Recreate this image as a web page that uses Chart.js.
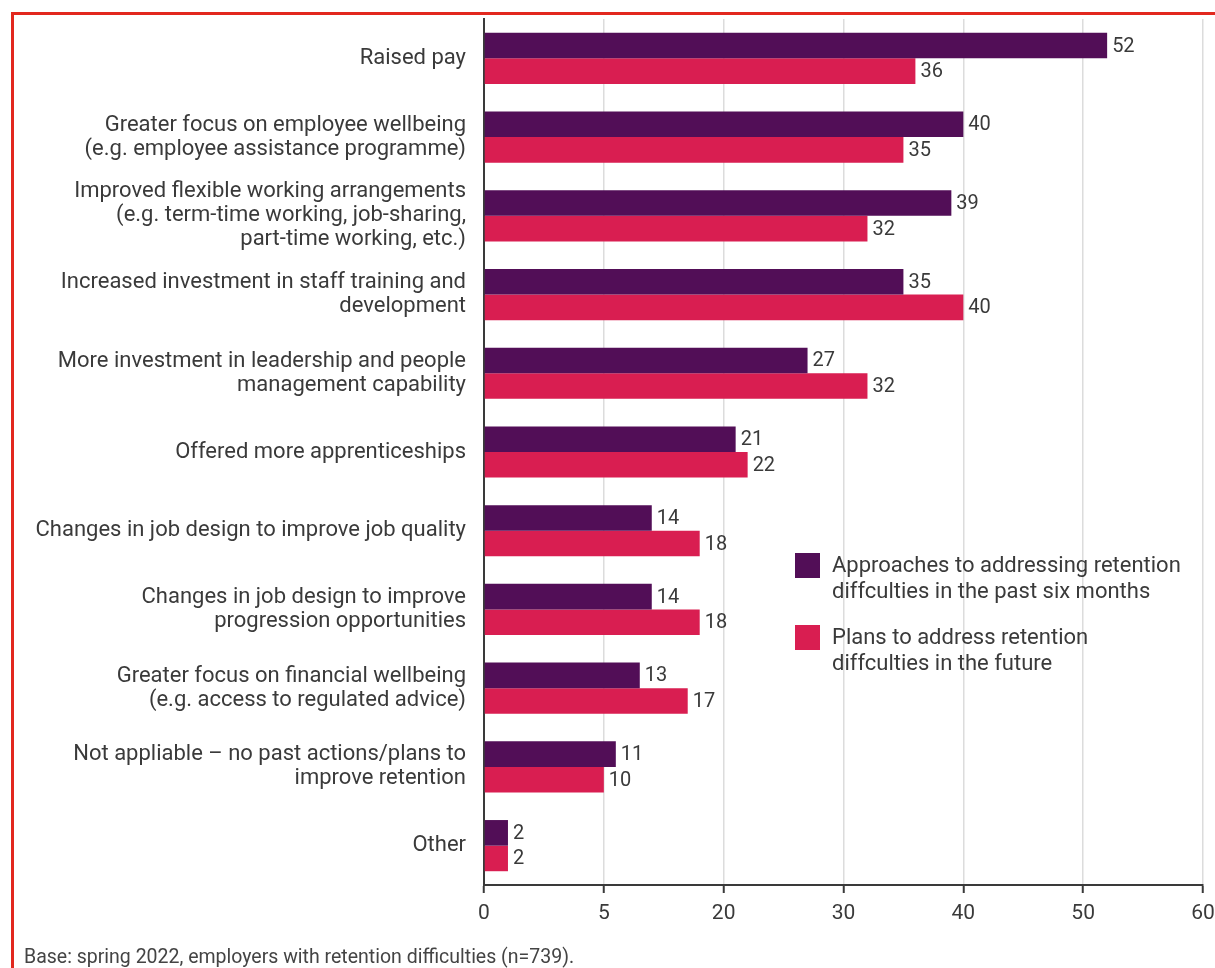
<!DOCTYPE html>
<html>
<head>
<meta charset="utf-8">
<script src="https://cdn.jsdelivr.net/npm/chart.js@4.4.1/dist/chart.umd.min.js"></script>
<style>
html,body{margin:0;padding:0;background:#fff;overflow:hidden;}
body{width:1215px;height:968px;position:relative;font-family:Roboto,"Liberation Sans",sans-serif;}
#frame{position:absolute;left:11px;top:12px;width:1300px;height:1100px;border-top:3px solid #e2281e;border-left:3px solid #e2281e;}
#wrap{position:absolute;left:0;top:0;width:1235px;height:968px;}
#legend{position:absolute;left:795px;top:553px;}
.item{position:relative;height:72px;}
.sw{position:absolute;left:0;top:0;width:25px;height:25px;}
.txt{position:absolute;left:37px;top:-1px;width:400px;font-size:22px;line-height:26px;color:#3a3a3a;white-space:nowrap;}
#note{position:absolute;left:24px;top:945px;font-size:19.5px;color:#444;white-space:nowrap;}
</style>
</head>
<body>
<div id="frame"></div>
<div id="wrap"><canvas id="c" width="1235" height="968"></canvas></div>
<div id="legend"></div>
<div id="note">Base: spring 2022, employers with retention difficulties (n=739).</div>
<script>
const categories=[
["Raised pay"],
["Greater focus on employee wellbeing","(e.g. employee assistance programme)"],
["Improved flexible working arrangements","(e.g. term-time working, job-sharing,","part-time working, etc.)"],
["Increased investment in staff training and","development"],
["More investment in leadership and people","management capability"],
["Offered more apprenticeships"],
["Changes in job design to improve job quality"],
["Changes in job design to improve","progression opportunities"],
["Greater focus on financial wellbeing","(e.g. access to regulated advice)"],
["Not appliable – no past actions/plans to","improve retention"],
["Other"]
];
const pastSix=[52,40,39,35,27,21,14,14,13,11,2];
const future=[36,35,32,40,32,22,18,18,17,10,2];
const seriesNames=[
"Approaches to addressing retention diffculties in the past six months",
"Plans to address retention diffculties in the future"
];
const tickLabels=["0","5","20","30","40","50","60"];

const purple="#520e57", red="#d91e51";
const FONT="Roboto";

// numbers at the end of each bar
const valueLabels={
id:"valueLabels",
afterDatasetsDraw(chart){
const ctx=chart.ctx;
ctx.save();
ctx.font="20px "+FONT;
ctx.fillStyle="#3a3a3a";
ctx.textBaseline="middle";
ctx.textAlign="left";
chart.data.datasets.forEach((ds,i)=>{
chart.getDatasetMeta(i).data.forEach((bar,j)=>{
ctx.fillText(ds.data[j],bar.x+5,bar.y+1);
});
});
ctx.restore();
}
};

const chart=new Chart(document.getElementById("c"),{
type:"bar",
data:{
labels:categories,
datasets:[
{label:seriesNames[0],data:pastSix,backgroundColor:purple},
{label:seriesNames[1],data:future,backgroundColor:red}
]
},
options:{
indexAxis:"y",
responsive:false,
animation:false,
events:[],
layout:{padding:{top:19,right:32,bottom:30,left:0}},
datasets:{bar:{categoryPercentage:0.65,barPercentage:1}},
plugins:{legend:{display:false},tooltip:{enabled:false}},
scales:{
x:{
min:0,max:60,
ticks:{stepSize:10,color:"#3a3a3a",font:{family:FONT,size:21},padding:8,
callback:(v,i)=>tickLabels[i]},
grid:{color:"#dcdcdc",lineWidth:1.5,tickLength:8,tickColor:"#3a3a3a",tickWidth:2},
border:{display:true,color:"#3a3a3a",width:2},
afterFit(s){s.height=53;}
},
y:{
ticks:{color:"#3a3a3a",font:{family:FONT,size:22,lineHeight:"24px"},padding:10},
grid:{display:false},
border:{display:true,color:"#3a3a3a",width:2},
afterFit(s){s.width=484;s.paddingTop=0;s.paddingBottom=0;}
}
}
},
plugins:[valueLabels]
});

// legend block placed inside the plot
const lg=document.getElementById("legend");
const splitAt=[["Approaches to addressing retention","diffculties in the past six months"],["Plans to address retention","diffculties in the future"]];
chart.data.datasets.forEach((ds,i)=>{
const it=document.createElement("div");
it.className="item";
it.innerHTML='<div class="sw" style="background:'+ds.backgroundColor+'"></div><div class="txt">'+splitAt[i].join("<br>")+'</div>';
lg.appendChild(it);
});
</script>
</body>
</html>
